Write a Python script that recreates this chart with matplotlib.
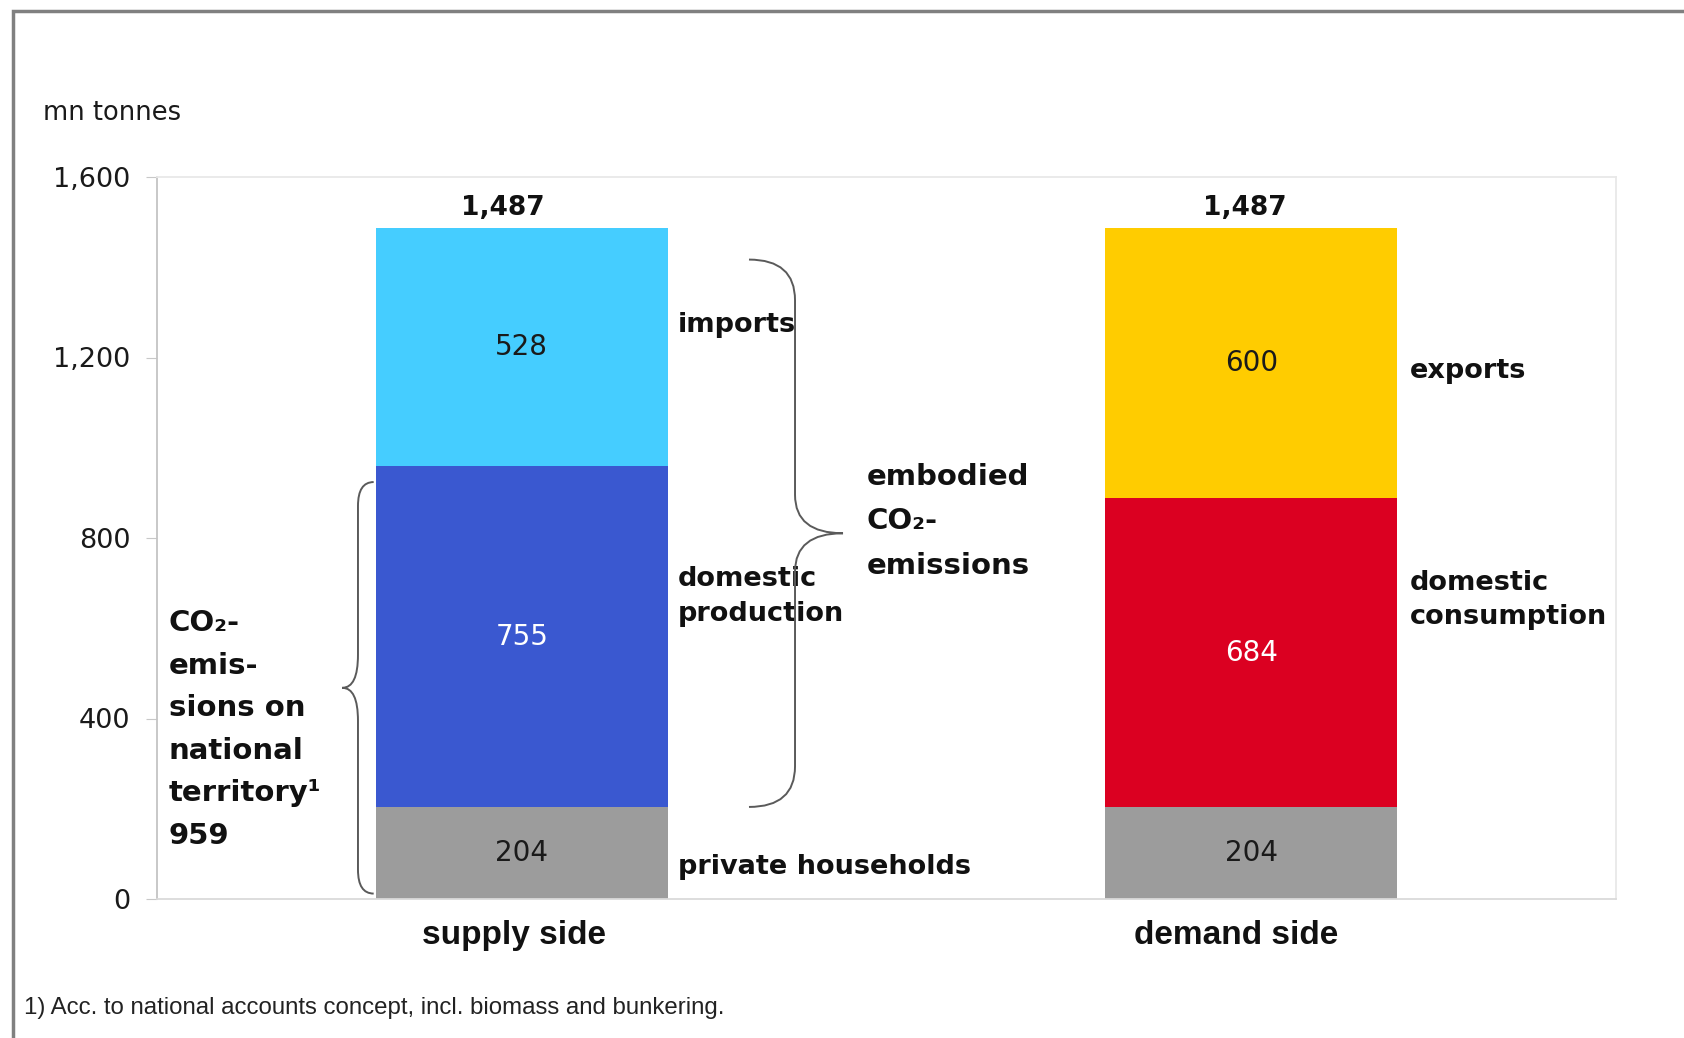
import matplotlib
matplotlib.use("Agg")
import matplotlib.pyplot as plt
from matplotlib.path import Path
from matplotlib.patches import PathPatch, Rectangle
import numpy as np

# data (mn tonnes)
sides = ["supply side", "demand side"]
households = [204, 204]
middle = [755, 684]      # domestic production / domestic consumption
upper = [528, 600]       # imports / exports
totals = [1487, 1487]
territory = 959          # households + domestic production
y_ticks = [0, 400, 800, 1200, 1600]
y_tick_labels = ["0", "400", "800", "1,200", "1,600"]

grey = "#9c9c9c"
mid_colors = ["#3a58d0", "#db0021"]
up_colors = ["#45cdff", "#ffcc00"]
total_dx = [-0.026, -0.009]
side_dx = [-0.011, -0.021]

W, H = 1684, 1038
fig = plt.figure(figsize=(W / 100, H / 100), dpi=100)
ax = fig.add_axes([157 / W, 1 - 899 / H, (1616 - 157) / W, (899 - 177) / H])

x = np.arange(len(sides))
bw = 0.4
ax.bar(x, households, width=bw, color=grey, zorder=2)
ax.bar(x, middle, width=bw, bottom=households, color=mid_colors, zorder=2)
bott = np.array(households) + np.array(middle)
ax.bar(x, upper, width=bw, bottom=bott, color=up_colors, zorder=2)

# values inside the segments
for i in range(len(sides)):
    ax.text(x[i], households[i] / 2, str(households[i]), ha="center", va="center",
            fontsize=20, color="#1a1a1a")
    ax.text(x[i], households[i] + middle[i] / 2, str(middle[i]), ha="center", va="center",
            fontsize=20, color="white")
    ax.text(x[i], bott[i] + upper[i] / 2, str(upper[i]), ha="center", va="center",
            fontsize=20, color="#1a1a1a")
    ax.text(x[i] + total_dx[i], totals[i] + 45, "{:,}".format(totals[i]), ha="center", va="center",
            fontsize=19, fontweight="bold", color="#111111")
    # category label under the bar
    ax.text(x[i] + side_dx[i], -81, sides[i], ha="center", va="center", fontsize=24,
            fontweight="bold", family="Liberation Sans", color="#111111", clip_on=False)

ax.set_xlim(-0.5, 1.5)
ax.set_ylim(0, 1600)
ax.set_yticks(y_ticks)
ax.set_yticklabels(y_tick_labels)
ax.tick_params(axis="y", length=8, color="#c8c8c8", pad=11, labelsize=19.5, labelcolor="#1a1a1a")
ax.set_xticks([])

ax.spines["left"].set_color("#c4c4c4")
ax.spines["bottom"].set_color("#dadada")
ax.spines["top"].set_color("#e8e8e8")
ax.spines["right"].set_color("#e8e8e8")
for s in ax.spines.values():
    s.set_linewidth(1.3)


def brace(x_end, x_stem, x_tip, y0, y1, r_end, r_tip):
    ym = (y0 + y1) / 2
    verts = [(x_end, y1), (x_stem, y1), (x_stem, y1 - r_end),
             (x_stem, ym + r_tip), (x_stem, ym), (x_tip, ym),
             (x_stem, ym), (x_stem, ym - r_tip),
             (x_stem, y0 + r_end), (x_stem, y0), (x_end, y0)]
    codes = [Path.MOVETO, Path.CURVE3, Path.CURVE3, Path.LINETO, Path.CURVE3, Path.CURVE3,
             Path.CURVE3, Path.CURVE3, Path.LINETO, Path.CURVE3, Path.CURVE3]
    ax.add_patch(PathPatch(Path(verts, codes), fill=False, edgecolor="#5a5a5a", lw=1.4,
                           zorder=4, clip_on=False))


# left brace: emissions on national territory
brace(-0.203, -0.2245, -0.246, 12, territory - 35, 53, 73)
# right brace: embodied emissions
brace(0.3115, 0.3746, 0.4404, households[0], totals[0] - 70, 90, 85)

bold = dict(fontweight="bold", color="#111111")
ax.text(0.214, 1272, "imports", fontsize=19.5, va="center", **bold)
ax.text(0.214, 670, "domestic\nproduction", fontsize=19.5, va="center", linespacing=1.43, **bold)
ax.text(0.214, 71, "private households", fontsize=19.5, va="center", **bold)
ax.text(1.2177, 1171, "exports", fontsize=19.5, va="center", **bold)
ax.text(1.2177, 663, "domestic\nconsumption", fontsize=19.5, va="center", linespacing=1.43,
        bbox=dict(facecolor="white", edgecolor="none", pad=2), zorder=5, clip_on=False, **bold)
ax.text(0.473, 837, "embodied\nCO₂-\nemissions", fontsize=21, va="center", linespacing=1.75, **bold)
ax.text(-0.4836, 376, "CO₂-\nemis-\nsions on\nnational\nterritory¹\n{}".format(territory),
        fontsize=21, va="center", linespacing=1.66, **bold)

fig.text(43 / W, 1 - 113 / H, "mn tonnes", fontsize=18.5, va="center", color="#1a1a1a")
fig.text(24 / W, 1 - 1008 / H, "1) Acc. to national accounts concept, incl. biomass and bunkering.",
         fontsize=17.3, va="center", family="Liberation Sans", color="#222222")

# outer frame
fig.add_artist(Rectangle((13 / W, -0.2), 1.5, 1.2 - 11 / H, transform=fig.transFigure,
                         fill=False, edgecolor="#808080", lw=2.5))

fig.savefig("out.png", dpi=100)
